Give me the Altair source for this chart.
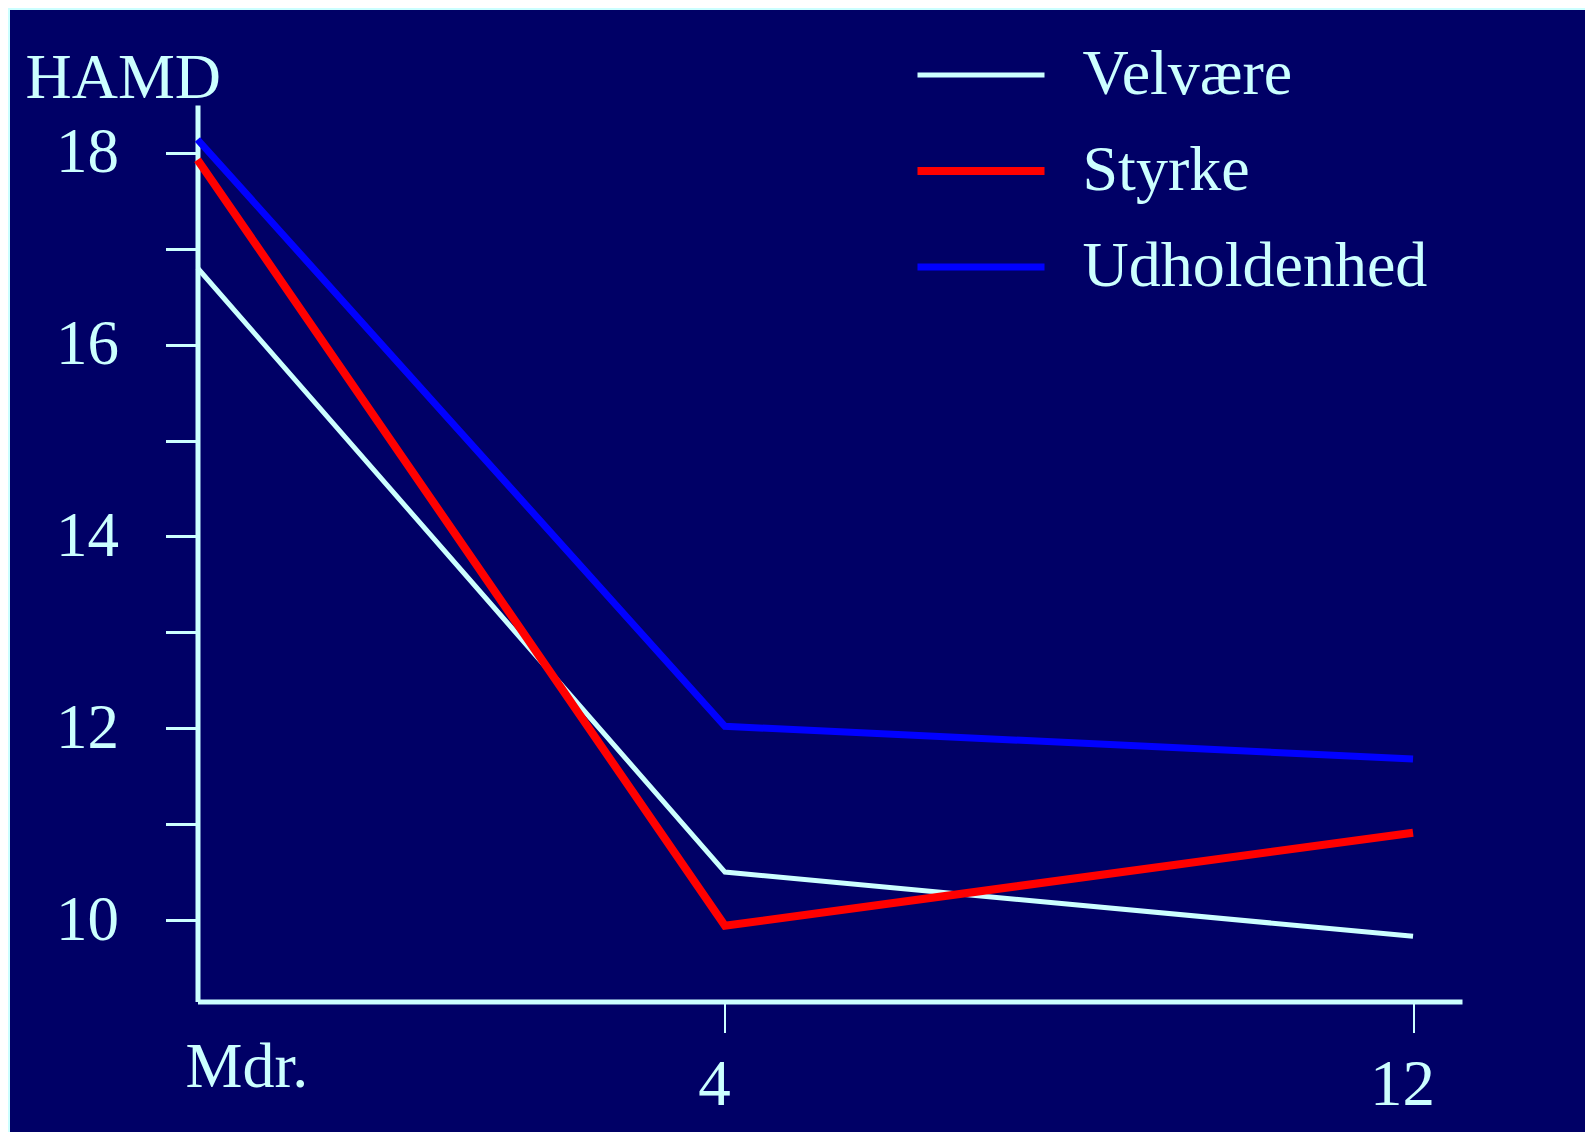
import altair as alt
import pandas as pd

# ---- data ----
months = [0, 4, 12]
series_names = ["Velvære", "Styrke", "Udholdenhed"]
velvaere = [16.8, 10.5, 9.83]
styrke = [17.93, 9.94, 10.91]
udholdenhed = [18.14, 12.02, 11.68]
y_tick_values = [10, 11, 12, 13, 14, 15, 16, 17, 18]
x_tick_values = [4, 12]

# ---- styles ----
series_colors = ["#ccffff", "#ff0000", "#0000ff"]
series_widths = [5, 8, 7]
FG = "#ccffff"
BG = "#000066"
FONT = "Liberation Serif"

rows = []
for name, vals in zip(series_names, [velvaere, styrke, udholdenhed]):
    for m, v in zip(months, vals):
        rows.append({"Måned": m, "HAMD": v, "Gruppe": name})
df = pd.DataFrame(rows)

W = 1264.5
H = 896.5
PAD = {"left": 189.5, "top": 97, "right": 123, "bottom": 130}

legend = alt.Legend(
    title=None,
    orient="none",
    legendX=716,
    legendY=-63,
    symbolType="stroke",
    symbolSize=16129,
    clipHeight=66,
    labelOffset=34,
    labelFont=FONT,
    labelFontSize=64,
    labelColor=FG,
    labelLimit=600,
    rowPadding=30,
    padding=0,
)

lines = alt.Chart(df).mark_line(strokeCap="butt", strokeJoin="miter").encode(
    x=alt.X(
        "Måned:Q",
        scale=alt.Scale(type="pow", exponent=0.76, domain=[0, 12.64], nice=False, zero=False),
        axis=alt.Axis(
            values=x_tick_values,
            title="Mdr.",
            grid=False,
            domainColor=FG,
            domainWidth=5,
            tickColor=FG,
            tickSize=31,
            tickWidth=2,
            labelFont=FONT,
            labelFontSize=65,
            labelColor=FG,
            labelAlign="center",
            labelOffset=-11,
            labelBaseline="alphabetic",
            labelPadding=72,
            labelFlush=False,
            labelOverlap=False,
            titleFont=FONT,
            titleFontSize=64,
            titleFontWeight="normal",
            titleColor=FG,
            titleAlign="left",
            titleBaseline="alphabetic",
            titleX=-12.5,
            titleY=85,
        ),
    ),
    y=alt.Y(
        "HAMD:Q",
        scale=alt.Scale(domain=[9.15, 18.5], nice=False, zero=False),
        axis=alt.Axis(
            values=y_tick_values,
            labelExpr="datum.value % 2 == 0 ? datum.label : ''",
            title="HAMD",
            grid=False,
            domainColor=FG,
            domainWidth=5,
            tickColor=FG,
            tickSize=32,
            tickWidth=3,
            labelFont=FONT,
            labelFontSize=63,
            labelColor=FG,
            labelPadding=47,
            labelOverlap=False,
            labelFlush=False,
            titleFont=FONT,
            titleFontSize=64,
            titleFontWeight="normal",
            titleColor=FG,
            titleAngle=0,
            titleAlign="left",
            titleBaseline="alphabetic",
            titleX=-172.5,
            titleY=-8,
        ),
    ),
    color=alt.Color("Gruppe:N", scale=alt.Scale(domain=series_names, range=series_colors), legend=legend),
    strokeWidth=alt.StrokeWidth(
        "Gruppe:N",
        scale=alt.Scale(type="ordinal", domain=series_names, range=series_widths),
        legend=legend,
    ),
)

frame_top = alt.Chart(df).mark_rule(color=FG, strokeWidth=2).encode(
    x=alt.value(-PAD["left"]), x2=alt.value(W + PAD["right"]), y=alt.value(-96)
)
frame_left = alt.Chart(df).mark_rule(color=FG, strokeWidth=2).encode(
    x=alt.value(-PAD["left"] + 1), y=alt.value(-96), y2=alt.value(H + PAD["bottom"])
)

chart = (
    alt.layer(frame_top, frame_left, lines)
    .properties(width=W, height=H, padding=PAD, autosize=alt.AutoSizeParams(type="none"))
    .configure(background=BG)
    .configure_view(stroke=None)
)

chart.save("out.html", embed_options={"renderer": "svg", "actions": False})
